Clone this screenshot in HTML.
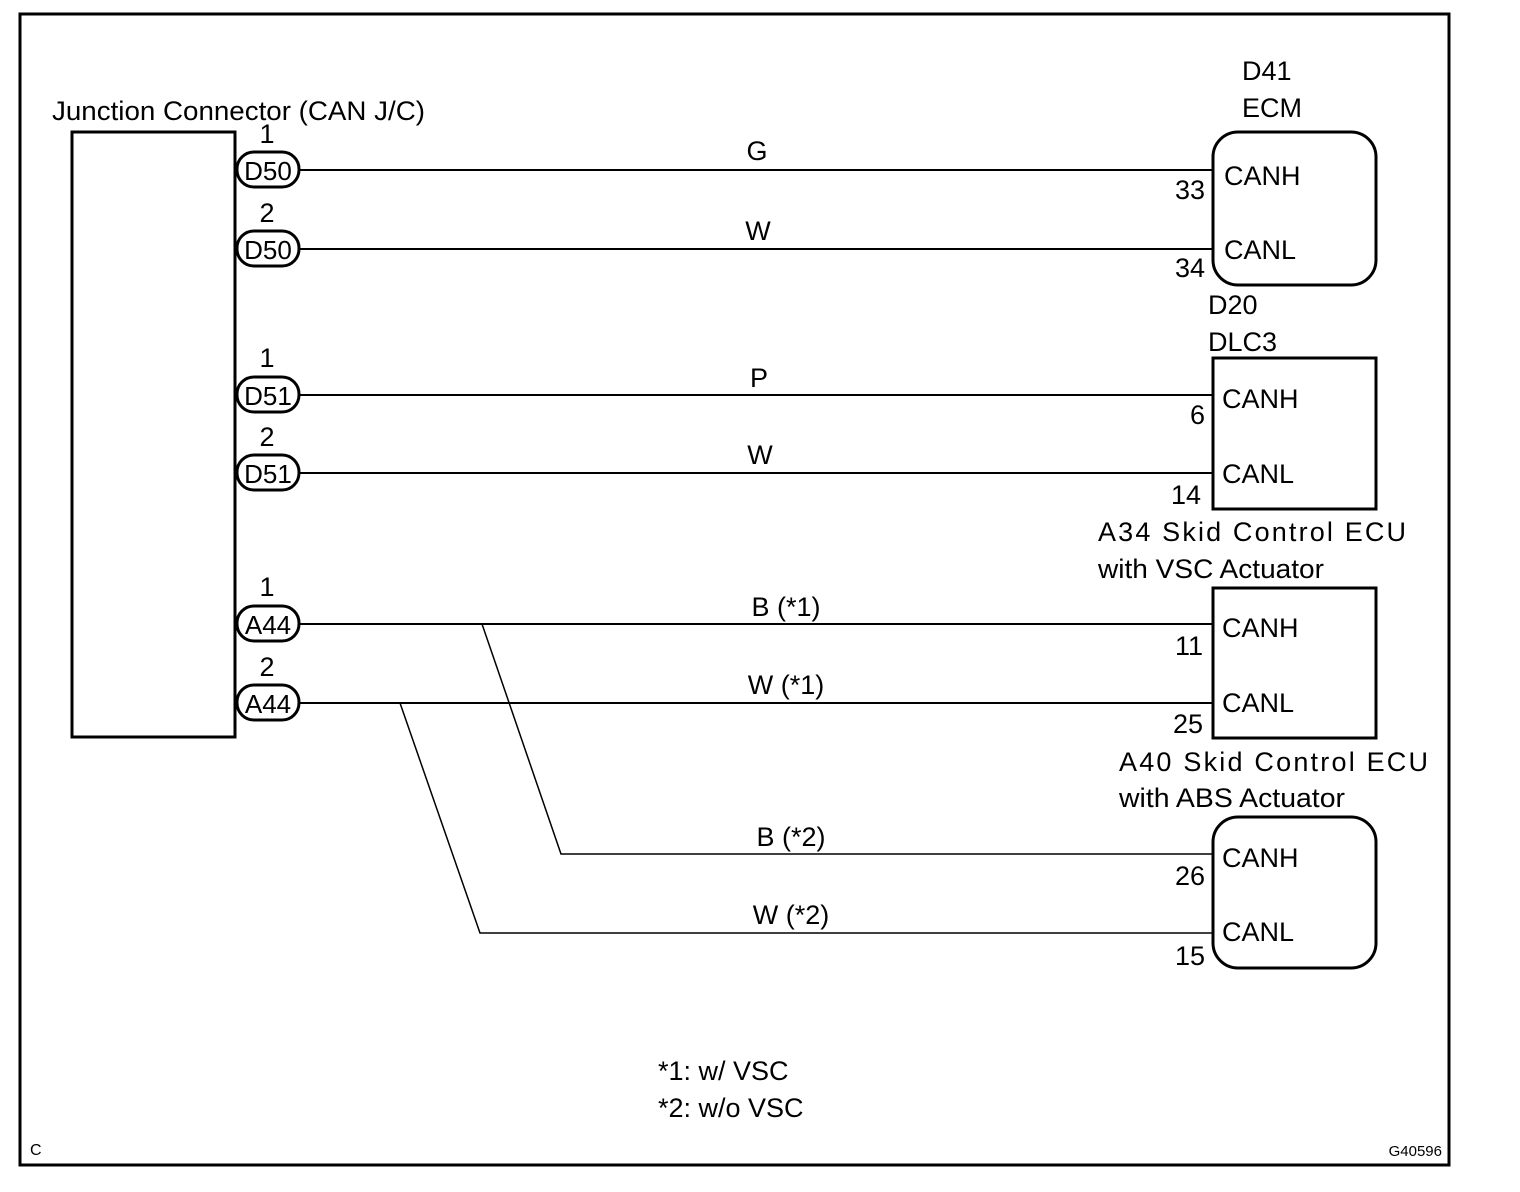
<!DOCTYPE html>
<html><head><style>
html,body{margin:0;padding:0;background:#fff;}
svg{display:block;}
text{font-family:"Liberation Sans",Arial,sans-serif;font-size:27px;fill:#000;}
.p{font-size:26px;}
</style></head><body>
<svg width="1520" height="1192" viewBox="0 0 1520 1192" xmlns="http://www.w3.org/2000/svg">
<rect x="20" y="14" width="1429" height="1151" fill="none" stroke="#000" stroke-width="3"/>
<rect x="72" y="132" width="163" height="605" fill="none" stroke="#000" stroke-width="3"/>
<text x="52" y="120" textLength="373" lengthAdjust="spacingAndGlyphs">Junction Connector (CAN J/C)</text>
<g fill="none" stroke="#000" stroke-width="2">
<line x1="300" y1="170" x2="1212" y2="170"/>
<line x1="300" y1="249" x2="1212" y2="249"/>
<line x1="300" y1="395" x2="1212" y2="395"/>
<line x1="300" y1="473" x2="1212" y2="473"/>
<line x1="300" y1="624" x2="1212" y2="624"/>
<line x1="300" y1="703" x2="1212" y2="703"/>
<polyline points="482,624 561,854 1212,854" stroke-width="1.5"/>
<polyline points="400,703 480,933 1212,933" stroke-width="1.5"/>
</g>
<g fill="#fff" stroke="#000" stroke-width="3">
<rect x="237" y="152" width="62" height="35" rx="17"/>
<rect x="237" y="231" width="62" height="35" rx="17"/>
<rect x="237" y="377" width="62" height="35" rx="17"/>
<rect x="237" y="455" width="62" height="35" rx="17"/>
<rect x="237" y="606" width="62" height="35" rx="17"/>
<rect x="237" y="685" width="62" height="35" rx="17"/>
<rect x="1213" y="132" width="163" height="153" rx="25"/>
<rect x="1213" y="358" width="163" height="151"/>
<rect x="1213" y="588" width="163" height="150"/>
<rect x="1213" y="817" width="163" height="151" rx="25"/>
</g>
<g text-anchor="middle">
<text class="p" x="268" y="180">D50</text><text class="p" x="268" y="259">D50</text>
<text class="p" x="268" y="405">D51</text><text class="p" x="268" y="483">D51</text>
<text class="p" x="268" y="634">A44</text><text class="p" x="268" y="713">A44</text>
<text x="267" y="143">1</text><text x="267" y="222">2</text>
<text x="267" y="367">1</text><text x="267" y="446">2</text>
<text x="267" y="596">1</text><text x="267" y="676">2</text>
<text x="757" y="160">G</text><text x="758" y="240">W</text>
<text x="759" y="387">P</text><text x="760" y="464">W</text>
<text x="786" y="616">B (*1)</text><text x="786" y="694">W (*1)</text>
<text x="791" y="846">B (*2)</text><text x="791" y="924">W (*2)</text>
</g>
<g text-anchor="end">
<text x="1205" y="199">33</text><text x="1205" y="277">34</text>
<text x="1205" y="424">6</text><text x="1201" y="504">14</text>
<text x="1203" y="655">11</text><text x="1203" y="733">25</text>
<text x="1205" y="885">26</text><text x="1205" y="965">15</text>
</g>
<text x="1224" y="185">CANH</text><text x="1224" y="259">CANL</text>
<text x="1222" y="408">CANH</text><text x="1222" y="483">CANL</text>
<text x="1222" y="637">CANH</text><text x="1222" y="712">CANL</text>
<text x="1222" y="867">CANH</text><text x="1222" y="941">CANL</text>
<text x="1242" y="80">D41</text><text x="1242" y="117">ECM</text>
<text x="1208" y="314">D20</text><text x="1208" y="351">DLC3</text>
<text x="1098" y="541" textLength="308" lengthAdjust="spacing">A34 Skid Control ECU</text>
<text x="1098" y="578" textLength="226" lengthAdjust="spacingAndGlyphs">with VSC Actuator</text>
<text x="1119" y="771" textLength="309" lengthAdjust="spacing">A40 Skid Control ECU</text>
<text x="1119" y="807" textLength="226" lengthAdjust="spacingAndGlyphs">with ABS Actuator</text>
<text x="658" y="1080">*1: w/ VSC</text>
<text x="658" y="1117">*2: w/o VSC</text>
<text x="30" y="1155" style="font-size:16px">C</text>
<text x="1442" y="1156" text-anchor="end" style="font-size:15px">G40596</text>
</svg>
</body></html>
